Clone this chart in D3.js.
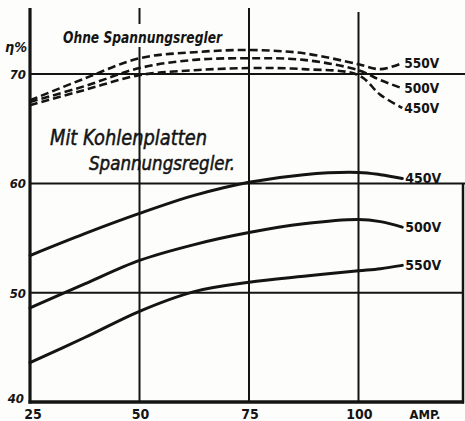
<!DOCTYPE html>
<html>
<head>
<meta charset="utf-8">
<script src="https://cdn.jsdelivr.net/npm/d3@7"></script>
<style>
  html, body { margin: 0; padding: 0; background: #fdfdfb; }
  svg { display: block; }
  text { fill: #141414; font-family: "DejaVu Sans Condensed", "DejaVu Sans", sans-serif; }
</style>
</head>
<body>
<svg id="chart" width="465" height="421"></svg>
<script>
// ---- data ----
const amps = [25, 37.5, 50, 62.5, 75, 87.5, 100, 105, 110];

// "Ohne Spannungsregler" (dashed)
const ohne550 = [67.6, 69.6, 71.45, 72.0, 72.2, 71.9, 70.9, 70.45, 71.0];
const ohne500 = [67.45, 68.9, 70.55, 71.3, 71.45, 71.3, 70.35, 69.45, 68.7];
const ohne450 = [67.15, 68.55, 69.9, 70.35, 70.55, 70.45, 69.9, 68.1, 66.9];

// "Mit Kohlenplatten Spannungsregler" (solid)
const mit450 = [53.4, 55.4, 57.25, 58.9, 60.1, 60.8, 61.0, 60.8, 60.45];
const mit500 = [48.6, 50.8, 52.95, 54.4, 55.5, 56.3, 56.7, 56.5, 56.0];
const mit550 = [43.6, 45.9, 48.3, 50.1, 50.95, 51.5, 52.0, 52.2, 52.5];

const xTicks = [25, 50, 75, 100];
const xTickLabels = ["25", "50", "75", "100"];
const yTicks = [40, 50, 60, 70];
const yTickLabels = ["40", "50", "60", "70"];

// ---- drawing ----
const ink = "#141414";
const svg = d3.select("#chart");
const x = d3.scaleLinear().domain([25, 125]).range([30, 468]);
const y = d3.scaleLinear().domain([40, 76]).range([402, 8.5]);
const xEnd = x.invert(463);

const g = svg.append("g");

// horizontal gridlines
g.selectAll(".hgrid").data(yTicks.filter(v => v > 40)).join("line")
  .attr("x1", x(25)).attr("x2", v => v === 50 ? 463 : 465)
  .attr("y1", v => y(v)).attr("y2", v => y(v))
  .attr("stroke", ink).attr("stroke-width", 2);

// vertical gridlines
const vTop = {50: 8, 75: 8, 100: 12};
g.selectAll(".vgrid").data(xTicks.filter(v => v > 25)).join("line")
  .attr("x1", v => x(v)).attr("x2", v => x(v))
  .attr("y1", v => vTop[v]).attr("y2", y(40))
  .attr("stroke", ink).attr("stroke-width", 2);

// right border (lower part)
g.append("line").attr("x1", x(xEnd)).attr("x2", x(xEnd))
  .attr("y1", y(60)).attr("y2", y(40) + 1.5)
  .attr("stroke", ink).attr("stroke-width", 2.5);

// axes
g.append("line").attr("x1", x(25)).attr("x2", x(25))
  .attr("y1", 8).attr("y2", y(40) + 1.5)
  .attr("stroke", ink).attr("stroke-width", 3.2);
g.append("line").attr("x1", x(25) - 1.5).attr("x2", x(xEnd) + 1)
  .attr("y1", y(40)).attr("y2", y(40))
  .attr("stroke", ink).attr("stroke-width", 3.5);

// curves
const line = d3.line().x(d => x(d[0])).y(d => y(d[1])).curve(d3.curveCatmullRom.alpha(0.5));
const dashed = [ohne550, ohne500, ohne450];
const solid = [mit450, mit500, mit550];

g.selectAll(".dash").data(dashed).join("path")
  .attr("d", s => line(amps.map((a, i) => [a, s[i]])))
  .attr("fill", "none").attr("stroke", ink).attr("stroke-width", 2.6)
  .attr("stroke-dasharray", "8,4");

g.selectAll(".solid").data(solid).join("path")
  .attr("d", s => line(amps.map((a, i) => [a, s[i]])))
  .attr("fill", "none").attr("stroke", ink).attr("stroke-width", 3)
  .attr("stroke-linecap", "round");

// series labels
const lastA = amps[amps.length - 1];
const dashLabelY = [ohne550[8], ohne500[8], ohne450[8]];
const dashLabels = ["550V", "500V", "450V"];
g.selectAll(".dl").data(dashLabels).join("text")
  .attr("x", x(lastA) + 2).attr("y", (d, i) => y(dashLabelY[i]) + 5)
  .attr("font-size", 14).attr("font-weight", "bold")
  .attr("textLength", 35).attr("lengthAdjust", "spacingAndGlyphs")
  .text(d => d);

const solidLabels = ["450V", "500V", "550V"];
g.selectAll(".sl").data(solidLabels).join("text")
  .attr("x", x(lastA) + 3).attr("y", (d, i) => y(solid[i][8]) + 5)
  .attr("font-size", 14).attr("font-weight", "bold")
  .attr("textLength", 36).attr("lengthAdjust", "spacingAndGlyphs")
  .text(d => d);

// y tick labels
g.selectAll(".yl").data(yTicks).join("text")
  .attr("x", v => v === 40 ? 24 : 26).attr("y", v => y(v) + (v === 40 ? 1 : 5))
  .attr("text-anchor", "end")
  .attr("font-size", 13).attr("font-weight", "bold").attr("font-style", "italic")
  .text((v, i) => yTickLabels[i]);

// unit label
g.append("text").attr("x", 5).attr("y", 52)
  .attr("font-size", 14).attr("font-weight", "bold").attr("font-style", "italic")
  .attr("textLength", 22).attr("lengthAdjust", "spacingAndGlyphs")
  .text("η%");

// x tick labels
g.selectAll(".xl").data(xTicks).join("text")
  .attr("x", v => x(v) + (v === 25 ? 3 : 1)).attr("y", 419)
  .attr("text-anchor", "middle")
  .attr("font-size", 14).attr("font-weight", "bold")
  .text((v, i) => xTickLabels[i]);
g.append("text").attr("x", 425).attr("y", 419)
  .attr("text-anchor", "middle")
  .attr("font-size", 13).attr("font-weight", "bold")
  .attr("textLength", 31).attr("lengthAdjust", "spacingAndGlyphs")
  .text("AMP.");

// annotation titles
g.append("rect").attr("x", 100).attr("y", 24).attr("width", 80).attr("height", 23)
  .attr("fill", "#fdfdfb");
g.append("text").attr("x", 63).attr("y", 43)
  .attr("font-size", 15).attr("font-weight", "bold").attr("font-style", "italic")
  .attr("textLength", 159).attr("lengthAdjust", "spacingAndGlyphs")
  .text("Ohne Spannungsregler");

g.append("text").attr("x", 50).attr("y", 145)
  .attr("font-size", 22).attr("font-style", "italic")
  .attr("stroke", ink).attr("stroke-width", 0.5)
  .attr("textLength", 157).attr("lengthAdjust", "spacingAndGlyphs")
  .text("Mit Kohlenplatten");
g.append("text").attr("x", 89).attr("y", 170)
  .attr("font-size", 19).attr("font-style", "italic")
  .attr("stroke", ink).attr("stroke-width", 0.5)
  .attr("textLength", 146).attr("lengthAdjust", "spacingAndGlyphs")
  .text("Spannungsregler.");
</script>
</body>
</html>
